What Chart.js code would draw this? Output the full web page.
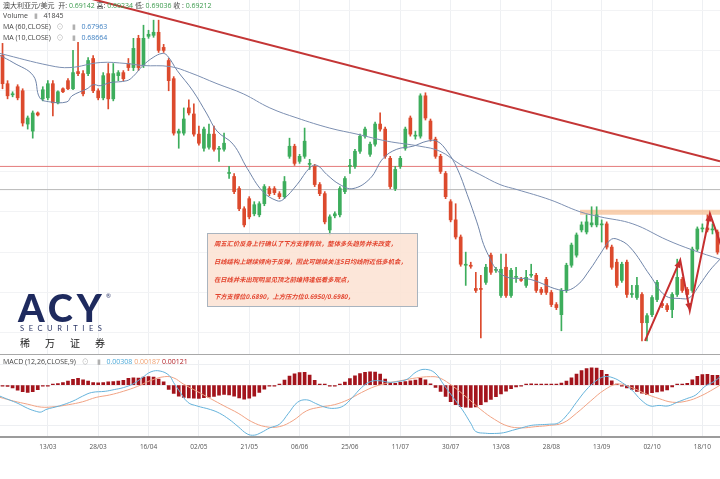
<!DOCTYPE html>
<html lang="zh-CN">
<head>
<meta charset="UTF-8">
<title>澳大利亚元/美元 日线</title>
<style>
  body { margin: 0; background: #fff; }
  .stage { position: relative; width: 720px; height: 479px; overflow: hidden; font-family: "Open Sans", "Noto Sans CJK SC", sans-serif; }
  .box-main { position: absolute; left: 0; top: 0; width: 720px; height: 355px; }
  .box-macd { position: absolute; left: 0; top: 355px; width: 720px; height: 124px; }
  .legend { position: absolute; left: 3px; font-size: 7px; color: #444; white-space: nowrap; line-height: 9px; }
  .legend .g { color: #3a9a4c; }
  .legend .b { color: #3d7fc1; }
  .legend .ic { color: #b0b0b0; margin: 0 4px; }
  .note { position: absolute; left: 207px; top: 233px; width: 211px; height: 74px; box-sizing: border-box;
          background: rgba(252, 226, 212, 0.88); border: 1px solid #a9b4bf; padding: 1px 0 0 6px; }
  .note p { margin: 0; font-family: "Noto Sans CJK SC"; font-size: 6.3px; line-height: 17.8px; color: #e3432d;
            font-style: italic; font-weight: bold; white-space: nowrap; }
  .acy { position: absolute; left: 18px; top: 284px; font-family: Lato; font-weight: 900; font-size: 38px;
         letter-spacing: 4px; color: #1e2a5e; }
  .acy sup { font-size: 6px; font-weight: 400; vertical-align: top; position: relative; top: 8px; }
  .sec { position: absolute; left: 20px; top: 324px; font-family: Lato; font-size: 7.5px; letter-spacing: 4.6px; color: #2a3565; }
  .cn { position: absolute; left: 20px; top: 335px; font-family: "Noto Sans CJK SC"; font-size: 10px; letter-spacing: 15px; color: #222; }
</style>
</head>
<body>
<div class="stage">
  <div class="box-main"><canvas id="mainChart"></canvas></div>
  <div class="box-macd"><canvas id="macdChart"></canvas></div>

  <div class="legend" style="top:1px">澳大利亚元/美元&nbsp; 开: <span class="g">0.69142</span> 高: <span class="g">0.69234</span> 低: <span class="g">0.69036</span> 收 : <span class="g">0.69212</span></div>
  <div class="legend" style="top:11px">Volume <span class="ic">▮</span> 41845</div>
  <div class="legend" style="top:22px">MA (60,CLOSE) <span class="ic">⊙</span><span class="ic">▮</span> <span class="b">0.67963</span></div>
  <div class="legend" style="top:33px">MA (10,CLOSE) <span class="ic">⊙</span><span class="ic">▮</span> <span class="b">0.68664</span></div>
  <div class="legend" style="top:357px">MACD (12,26,CLOSE,9) <span class="ic">⊙</span><span class="ic">▮</span> <span style="color:#4aa8d8">0.00308</span> <span style="color:#f0a070">0.00187</span> <span style="color:#b01c22">0.00121</span></div>

  <div class="note">
    <p>周五汇价反身上行确认了下方支撑有效，整体多头趋势并未改变，</p>
    <p>日线结构上继续倾向于反弹，因此可继续关注5日均线附近低多机会，</p>
    <p>在日线并未出现明显见顶之前维持逢低看多观点，</p>
    <p>下方支撑位0.6890，上方压力位0.6950/0.6980，</p>
  </div>

  <div class="acy">ACY<sup>®</sup></div>
  <div class="sec">SECURITIES</div>
  <div class="cn">稀万证券</div>
</div>

<script src="https://cdn.jsdelivr.net/npm/chart.js"></script>
<script>
// daily candles, AUD/USD
const openP = [0.7190,0.7134,0.7112,0.7128,0.7120,0.7054,0.7040,0.7076,0.7104,0.7106,
  0.7134,0.7096,0.7124,0.7140,0.7124,0.7158,0.7154,0.7154,0.7184,0.7120,
  0.7106,0.7154,0.7104,0.7150,0.7156,0.7174,0.7166,0.7224,0.7170,0.7228,
  0.7230,0.7236,0.7206,0.7180,0.7144,0.7036,0.7036,0.7086,0.7074,0.7034,
  0.7006,0.7008,0.7034,0.7004,0.7004,0.6956,0.6950,0.6926,0.6886,0.6906,
  0.6876,0.6874,0.6896,0.6926,0.6926,0.6916,0.6910,0.6990,0.7010,0.6980,
  0.6990,0.6974,0.6970,0.6934,0.6916,0.6844,0.6872,0.6874,0.6920,0.6970,
  0.6970,0.7000,0.7030,0.6994,0.7014,0.7054,0.7044,0.6986,0.6926,0.6970,
  0.7006,0.7066,0.7030,0.7030,0.7110,0.7060,0.7024,0.6990,0.6956,0.6900,
  0.6864,0.6830,0.6774,0.6774,0.6728,0.6728,0.6740,0.6794,0.6764,0.6714,
  0.6770,0.6714,0.6750,0.6746,0.6734,0.6754,0.6754,0.6726,0.6746,0.6720,
  0.6696,0.6676,0.6724,0.6774,0.6794,0.6844,0.6840,0.6854,0.6854,0.6854,
  0.6856,0.6810,0.6780,0.6744,0.6780,0.6716,0.6710,0.6716,0.6660,0.6676,
  0.6706,0.6698,0.6694,0.6686,0.6716,0.6746,0.6726,0.6724,0.6806,0.6846,
  0.6848,0.6844,0.6840];
const highP = [0.7214,0.7140,0.7118,0.7132,0.7124,0.7070,0.7080,0.7078,0.7128,0.7140,
  0.7140,0.7120,0.7126,0.7144,0.7200,0.7216,0.7160,0.7186,0.7190,0.7124,
  0.7156,0.7174,0.7174,0.7160,0.7160,0.7184,0.7224,0.7230,0.7250,0.7240,
  0.7260,0.7260,0.7212,0.7184,0.7148,0.7044,0.7086,0.7102,0.7094,0.7050,
  0.7048,0.7054,0.7050,0.7010,0.7036,0.6970,0.6956,0.6930,0.6890,0.6910,
  0.6900,0.6900,0.6934,0.6930,0.6930,0.6920,0.6950,0.7026,0.7014,0.6994,
  0.7046,0.6984,0.6974,0.6938,0.6920,0.6874,0.6880,0.6930,0.6950,0.6984,
  0.7004,0.7034,0.7048,0.7018,0.7058,0.7076,0.7048,0.6990,0.6970,0.6990,
  0.7048,0.7070,0.7040,0.7114,0.7116,0.7064,0.7028,0.6994,0.6960,0.6904,
  0.6896,0.6834,0.6800,0.6780,0.6760,0.6754,0.6776,0.6798,0.6770,0.6796,
  0.6796,0.6768,0.6770,0.6750,0.6764,0.6776,0.6758,0.6730,0.6750,0.6724,
  0.6700,0.6728,0.6778,0.6818,0.6838,0.6860,0.6874,0.6890,0.6890,0.6864,
  0.6860,0.6814,0.6786,0.6780,0.6784,0.6734,0.6750,0.6720,0.6678,0.6714,
  0.6744,0.6702,0.6698,0.6720,0.6786,0.6750,0.6730,0.6810,0.6850,0.6856,
  0.6874,0.6856,0.6844];
const lowP = [0.7124,0.7104,0.7108,0.7102,0.7050,0.7044,0.7026,0.7070,0.7100,0.7102,
  0.7070,0.7094,0.7116,0.7122,0.7122,0.7150,0.7110,0.7150,0.7116,0.7102,
  0.7102,0.7084,0.7100,0.7140,0.7140,0.7160,0.7160,0.7160,0.7166,0.7224,
  0.7226,0.7196,0.7196,0.7120,0.7032,0.7006,0.7032,0.7072,0.7030,0.7012,
  0.7000,0.7004,0.7000,0.6980,0.7000,0.6946,0.6916,0.6882,0.6850,0.6866,
  0.6872,0.6870,0.6892,0.6912,0.6914,0.6906,0.6906,0.6986,0.6972,0.6976,
  0.6986,0.6964,0.6930,0.6912,0.6856,0.6834,0.6868,0.6870,0.6916,0.6956,
  0.6966,0.6996,0.7026,0.6990,0.7010,0.7040,0.6986,0.6926,0.6922,0.6966,
  0.7002,0.7030,0.7024,0.7026,0.7062,0.7020,0.6986,0.6956,0.6906,0.6860,
  0.6826,0.6772,0.6734,0.6768,0.6720,0.6630,0.6736,0.6756,0.6760,0.6710,
  0.6710,0.6710,0.6740,0.6742,0.6730,0.6750,0.6720,0.6716,0.6716,0.6692,
  0.6686,0.6644,0.6720,0.6770,0.6790,0.6840,0.6836,0.6850,0.6850,0.6820,
  0.6806,0.6766,0.6730,0.6740,0.6710,0.6710,0.6706,0.6624,0.6624,0.6672,
  0.6702,0.6690,0.6682,0.6670,0.6712,0.6720,0.6712,0.6720,0.6802,0.6840,
  0.6840,0.6836,0.6796];
const closeP = [0.7134,0.7110,0.7114,0.7106,0.7056,0.7066,0.7076,0.7072,0.7122,0.7134,
  0.7096,0.7118,0.7118,0.7124,0.7156,0.7154,0.7114,0.7180,0.7120,0.7106,
  0.7150,0.7104,0.7154,0.7156,0.7144,0.7166,0.7204,0.7166,0.7224,0.7232,
  0.7236,0.7200,0.7200,0.7140,0.7036,0.7040,0.7064,0.7076,0.7034,0.7016,
  0.7044,0.7034,0.7004,0.7006,0.7016,0.6958,0.6920,0.6886,0.6854,0.6870,
  0.6894,0.6896,0.6930,0.6916,0.6918,0.6910,0.6940,0.7010,0.6976,0.6990,
  0.7020,0.6976,0.6934,0.6916,0.6860,0.6870,0.6876,0.6926,0.6946,0.6972,
  0.7000,0.7030,0.7044,0.7014,0.7054,0.7044,0.6990,0.6930,0.6964,0.6986,
  0.7044,0.7034,0.7032,0.7110,0.7066,0.7024,0.6990,0.6960,0.6910,0.6864,
  0.6830,0.6776,0.6776,0.6772,0.6724,0.6726,0.6770,0.6760,0.6766,0.6766,
  0.6714,0.6764,0.6752,0.6744,0.6750,0.6756,0.6724,0.6720,0.6720,0.6696,
  0.6690,0.6724,0.6774,0.6814,0.6834,0.6854,0.6860,0.6858,0.6874,0.6856,
  0.6810,0.6770,0.6734,0.6776,0.6716,0.6718,0.6734,0.6660,0.6674,0.6710,
  0.6740,0.6694,0.6686,0.6716,0.6750,0.6724,0.6716,0.6806,0.6846,0.6848,
  0.6844,0.6846,0.6800];

// moving averages: [candle index, price]
const ma10Pts = [[-0.5,0.7190],[2.1,0.7176],[6.1,0.7150],[7.4,0.7106],[9.4,0.7098],[12.8,0.7098],
  [13.8,0.7110],[16.8,0.7124],[18,0.7132],[19.4,0.7130],[21.3,0.7136],[24.7,0.7140],[25.9,0.7148],
  [27.9,0.7170],[29.9,0.7186],[31.7,0.7194],[32.7,0.7190],[34.7,0.7160],[37.8,0.7120],[40.6,0.7074],
  [42.6,0.7040],[45.8,0.7014],[48.6,0.6966],[51.7,0.6920],[54.5,0.6902],[55.7,0.6904],[58.5,0.6934],
  [61.1,0.6968],[62.5,0.6972],[64.4,0.6954],[67,0.6934],[69.6,0.6926],[73,0.6946],[75.6,0.6986],
  [78.3,0.7004],[81.5,0.7010],[84.3,0.7020],[86.3,0.7020],[88.3,0.7000],[90.3,0.6966],[92.3,0.6914],
  [94.2,0.6860],[96.2,0.6800],[99.4,0.6754],[104.8,0.6746],[111.3,0.6724],[114.1,0.6734],[116.7,0.6766],
  [118.7,0.6796],[120.7,0.6824],[122,0.6826],[124.6,0.6810],[128.6,0.6754],[131.6,0.6714],[134.6,0.6708],
  [136.5,0.6710],[138.5,0.6736],[140.5,0.6764],[142.5,0.6786]];
const ma60Pts = [[-0.5,0.7194],[9.4,0.7170],[13.4,0.7166],[19.4,0.7176],[24.7,0.7174],[27.9,0.7170],
  [33.3,0.7168],[37.2,0.7156],[42.6,0.7134],[47.8,0.7114],[53.1,0.7086],[58.5,0.7066],[65,0.7046],
  [70.4,0.7034],[76.4,0.7020],[82.9,0.7010],[86.9,0.7000],[90.9,0.6974],[94.8,0.6954],[98.8,0.6934],
  [102.2,0.6924],[108.7,0.6904],[114.7,0.6880],[118.7,0.6870],[125.2,0.6856],[132,0.6824],
  [137.1,0.6804],[142.5,0.6786]];

// drawn studies
const trendPts = [[10, 0.7322], [142.5, 0.6980]];
const redLevel = 0.6970;
const grayLevel = 0.6924;
const bandTop = 0.6884, bandBottom = 0.6874, bandFrom = 114.7, bandTo = 142.5;
const zigPts = [[127.6,0.6624],[134.6,0.6784],[136.5,0.6684],[140.5,0.6876],[142.9,0.6808]];
const gridLevels = [0.664, 0.672, 0.680, 0.688, 0.696, 0.704, 0.712, 0.720, 0.728];

// MACD (12,26,9)
const macdHist = [-0.00009,-0.00015,-0.00033,-0.0006,-0.00081,-0.0009,-0.00081,-0.00054,-0.00012,-0.00003,
  0.00009,0.00021,0.00033,0.00051,0.00072,0.00084,0.00066,0.00051,0.00033,0.0003,
  0.00033,0.00042,0.00045,0.00051,0.0006,0.00084,0.0009,0.00087,0.00099,0.00105,
  0.00099,0.00075,0.00042,-0.00051,-0.00102,-0.00135,-0.0015,-0.00156,-0.00159,-0.00162,
  -0.00153,-0.00147,-0.00138,-0.00123,-0.00114,-0.0012,-0.00135,-0.00156,-0.00171,-0.00159,
  -0.00135,-0.0009,-0.00048,-0.00012,-0.00003,0.00015,0.00063,0.00111,0.00141,0.00156,
  0.00159,0.00123,0.0006,0.00015,0.00003,-0.00009,-0.00003,0.00012,0.00039,0.00081,
  0.00114,0.00144,0.00159,0.00165,0.00162,0.00138,0.00075,0.00033,0.00024,0.00036,
  0.00045,0.00054,0.00063,0.00084,0.00066,0.00018,-0.00027,-0.00078,-0.00138,-0.00204,
  -0.0024,-0.00264,-0.0027,-0.00273,-0.00267,-0.0024,-0.00207,-0.00174,-0.00141,-0.00108,
  -0.00075,-0.00042,-0.00021,-0.00003,0.00006,0.00018,0.00015,0.00015,0.00012,0.00009,
  0.00009,0.00027,0.00051,0.0009,0.00138,0.0018,0.00204,0.00213,0.0021,0.00183,
  0.00135,0.00054,0.00012,-0.00006,-0.00033,-0.00051,-0.00078,-0.00099,-0.00117,-0.00093,
  -0.00084,-0.00075,-0.00057,-0.00021,0.00006,0.00015,0.00024,0.00066,0.00108,0.00132,
  0.00135,0.0012,0.0012];
const difPts = [[-0.5,-0.00135],[1.3,-0.0018],[3.1,-0.00225],[5,-0.00285],[6.8,-0.00324],[7.7,-0.0033],
  [8.6,-0.003],[11.3,-0.00255],[14,-0.00195],[15.9,-0.00135],[17.7,-0.0009],[20.4,-0.00075],[22.2,-0.00054],
  [24,-0.0003],[25.9,0.00015],[27.7,0.0009],[29.5,0.00165],[31.3,0.00174],[33.1,0.0012],[34,0.0003],
  [35,-0.0006],[36.8,-0.0021],[38.6,-0.00255],[41.3,-0.003],[43.1,-0.00345],[45,-0.0042],[46.8,-0.0051],
  [48.6,-0.006],[50,-0.00615],[51.3,-0.00585],[53.1,-0.00525],[55,-0.0048],[56.8,-0.00345],[58.6,-0.0021],
  [60.4,-0.0018],[62.2,-0.00225],[64,-0.0027],[65.9,-0.00285],[67.7,-0.00255],[69.5,-0.0015],[71.3,-0.0003],
  [73.1,0.00045],[75,0.00054],[76.8,0.00036],[78.6,0.00045],[80.4,0.00075],[82.2,0.00165],[84,0.00195],
  [85.9,0.0015],[87.7,0],[89.5,-0.0015],[91.3,-0.003],[93.1,-0.0048],[94,-0.0057],[95.9,-0.00591],
  [97.7,-0.00594],[99.5,-0.00585],[101.3,-0.00555],[103.1,-0.00525],[105,-0.00495],[106.8,-0.00486],
  [108.6,-0.0048],[110.4,-0.00465],[112.2,-0.0036],[114,-0.0021],[115.9,-0.0006],[117.7,0.00045],
  [119.5,0.00105],[121.3,0.0009],[123.1,0.0003],[125,-0.0006],[126.8,-0.0018],[128.6,-0.00255],
  [130.4,-0.00249],[132.2,-0.00255],[134,-0.0021],[135.9,-0.00165],[137.7,-0.0012],[139.5,-0.00015],
  [141.3,0.00045],[142.5,0.001]];
const deaPts = [[-0.5,-0.0015],[2.2,-0.00195],[5,-0.00234],[7.7,-0.0027],[10.4,-0.00264],[13.1,-0.0024],
  [15.9,-0.00204],[18.6,-0.0015],[21.3,-0.0012],[24,-0.00075],[26.8,-0.00015],[29.5,0.0006],[32.2,0.00105],
  [34,0.0009],[35.9,0.00015],[38.6,-0.00075],[41.3,-0.00165],[44,-0.00255],[46.8,-0.00345],[49.5,-0.0045],
  [52.2,-0.0051],[55,-0.0051],[57.7,-0.00435],[60.4,-0.00315],[63.1,-0.0027],[65.9,-0.0024],[68.6,-0.0018],
  [71.3,-0.0009],[74,-0.00015],[76.8,0.0003],[79.5,0.0006],[82.2,0.0009],[85,0.00105],[86.8,0.0009],
  [89.5,-0.00015],[92.2,-0.0015],[95,-0.003],[97.7,-0.0042],[100.4,-0.00504],[103.1,-0.00525],
  [105.9,-0.0051],[108.6,-0.00495],[111.3,-0.00465],[114,-0.00345],[116.8,-0.00195],[119.5,-0.0006],
  [122.2,0.00015],[125,-0.0003],[127.7,-0.00105],[130.4,-0.00165],[133.1,-0.0021],[135.9,-0.00195],
  [138.6,-0.00135],[141.3,-0.00045],[142.5,0]];
const macdLevels = [0.0025, 0, -0.0025, -0.005];

// date axis
const tickIdx = [9, 19, 29, 39, 49, 59, 69, 79, 89, 99, 109, 119, 129, 139];
const tickText = ['13/03','28/03','16/04','02/05','21/05','06/06','25/06','11/07','30/07','13/08','28/08','13/09','02/10','18/10'];

Chart.defaults.font.family = '"Open Sans", sans-serif';

const upColor = '#3dad5c';
const downColor = '#dc4a2d';
const candleIdx = openP.map((_, i) => i);
const candleColors = closeP.map((c, i) => c >= openP[i] ? upColor : downColor);
const toXY = pts => pts.map(p => ({ x: p[0], y: p[1] }));
const levelLine = v => [{ x: -0.5, y: v }, { x: 142.5, y: v }];

// arrow heads on the zigzag study
const arrowHeads = {
  id: 'arrowHeads',
  afterDatasetsDraw(chart) {
    const meta = chart.getDatasetMeta(0);
    const pts = meta.data;
    const a = chart.chartArea;
    const ctx = chart.ctx;
    ctx.save();
    ctx.beginPath();
    ctx.rect(a.left, a.top, a.right - a.left, a.bottom - a.top);
    ctx.clip();
    ctx.fillStyle = '#c62f2f';
    for (let i = 1; i < pts.length - 1; i++) {
      const p0 = pts[i - 1], p1 = pts[i];
      const ang = Math.atan2(p1.y - p0.y, p1.x - p0.x);
      ctx.beginPath();
      ctx.moveTo(p1.x, p1.y);
      ctx.lineTo(p1.x - 8 * Math.cos(ang - 0.4), p1.y - 8 * Math.sin(ang - 0.4));
      ctx.lineTo(p1.x - 8 * Math.cos(ang + 0.4), p1.y - 8 * Math.sin(ang + 0.4));
      ctx.closePath();
      ctx.fill();
    }
    ctx.restore();
  }
};

new Chart(document.getElementById('mainChart'), {
  type: 'bar',
  data: {
    datasets: [
      { type: 'line', data: toXY(zigPts), borderColor: '#c62f2f', borderWidth: 2, pointRadius: 0, order: 1 },
      { type: 'line', data: toXY(trendPts), borderColor: '#c43636', borderWidth: 2, pointRadius: 0, order: 2 },
      { type: 'line', data: toXY(ma60Pts), borderColor: '#7d90b2', borderWidth: 1, pointRadius: 0, tension: 0.4, order: 3 },
      { type: 'line', data: toXY(ma10Pts), borderColor: '#6f84a8', borderWidth: 1, pointRadius: 0, tension: 0.4, order: 3 },
      { data: candleIdx.map(i => ({ x: i, y: [openP[i], closeP[i]] })), backgroundColor: candleColors,
        barThickness: 3, minBarLength: 1, grouped: false, order: 4 },
      { data: candleIdx.map(i => ({ x: i, y: [lowP[i], highP[i]] })), backgroundColor: candleColors,
        barThickness: 1, grouped: false, order: 5 },
      { type: 'line', data: levelLine(redLevel), borderColor: '#e47a7a', borderWidth: 1, pointRadius: 0, order: 6 },
      { type: 'line', data: levelLine(grayLevel), borderColor: '#b9b9b9', borderWidth: 1, pointRadius: 0, order: 6 },
      { type: 'line', data: [{ x: bandFrom, y: bandTop }, { x: bandTo, y: bandTop }], borderWidth: 0, pointRadius: 0,
        fill: '+1', backgroundColor: 'rgba(245,176,122,0.6)', order: 7 },
      { type: 'line', data: [{ x: bandFrom, y: bandBottom }, { x: bandTo, y: bandBottom }], borderWidth: 0, pointRadius: 0, order: 7 }
    ]
  },
  options: {
    responsive: true,
    maintainAspectRatio: false,
    animation: false,
    layout: { padding: 0 },
    plugins: { legend: { display: false }, tooltip: { enabled: false } },
    scales: {
      x: {
        type: 'linear', min: -0.5, max: 142.5, offset: false,
        afterBuildTicks: axis => { axis.ticks = tickIdx.map(v => ({ value: v })); },
        ticks: { display: false },
        grid: { color: '#eef0f3', drawTicks: false, offset: false },
        border: { display: true, color: '#a8a8a8', width: 2 }
      },
      y: {
        min: 0.6596, max: 0.7300,
        afterBuildTicks: axis => { axis.ticks = gridLevels.map(v => ({ value: v })); },
        ticks: { display: false },
        grid: { color: '#f2f3f5', drawTicks: false },
        border: { display: false }
      }
    }
  },
  plugins: [arrowHeads]
});

new Chart(document.getElementById('macdChart'), {
  type: 'bar',
  data: {
    datasets: [
      { type: 'line', data: toXY(difPts), borderColor: '#66b3db', borderWidth: 1, pointRadius: 0, tension: 0.4, order: 1 },
      { type: 'line', data: toXY(deaPts), borderColor: '#f1a384', borderWidth: 1, pointRadius: 0, tension: 0.4, order: 1 },
      { data: candleIdx.map(i => ({ x: i, y: macdHist[i] })), backgroundColor: '#a3141c',
        barThickness: 3, minBarLength: 1, order: 2 }
    ]
  },
  options: {
    responsive: true,
    maintainAspectRatio: false,
    animation: false,
    layout: { padding: { top: 5, bottom: 22, left: 0, right: 0 } },
    plugins: { legend: { display: false }, tooltip: { enabled: false } },
    scales: {
      x: {
        type: 'linear', min: -0.5, max: 142.5, offset: false,
        afterBuildTicks: axis => { axis.ticks = tickIdx.map(v => ({ value: v })); },
        ticks: {
          callback: v => tickText[tickIdx.indexOf(v)],
          font: { size: 6.5 }, color: '#555', autoSkip: false, maxRotation: 0, padding: 6
        },
        grid: { color: '#eceef1', drawTicks: false, offset: false },
        border: { display: true, color: '#9c9c9c', width: 2 }
      },
      y: {
        min: -0.0064, max: 0.0031,
        afterBuildTicks: axis => { axis.ticks = macdLevels.map(v => ({ value: v })); },
        ticks: { display: false },
        grid: { color: '#edeff2', drawTicks: false },
        border: { display: false }
      }
    }
  }
});
</script>
</body>
</html>
